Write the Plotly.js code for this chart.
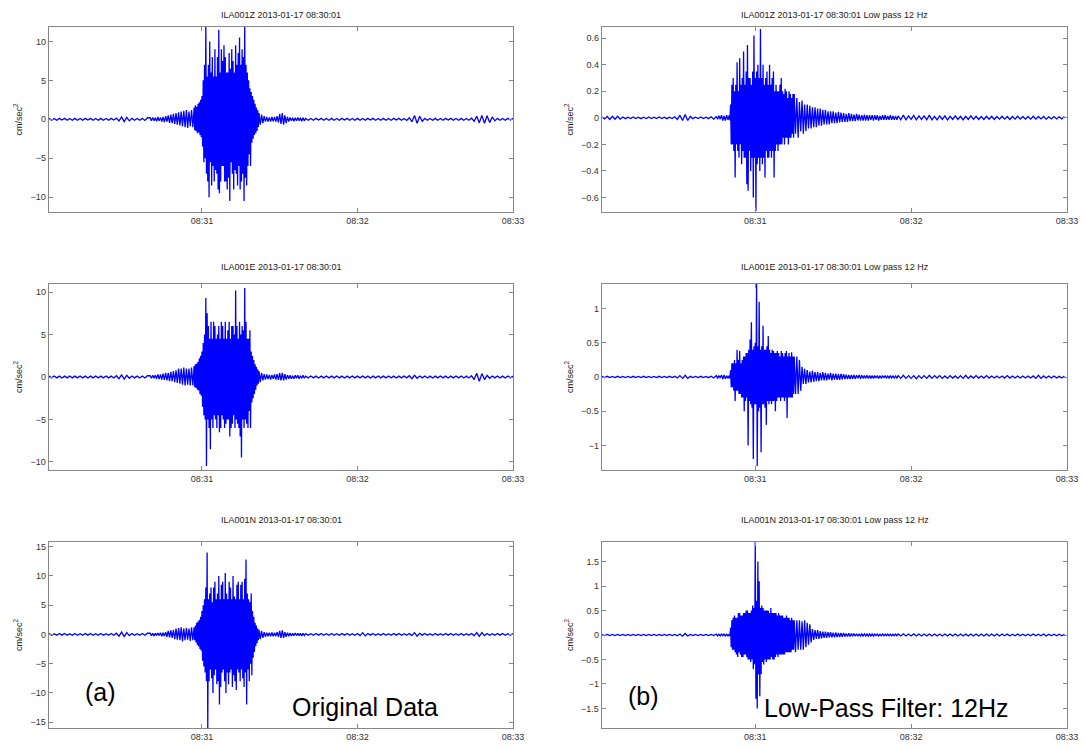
<!DOCTYPE html>
<html><head><meta charset="utf-8">
<script src="https://cdn.plot.ly/plotly-3.0.1.min.js"></script>
<style>html,body{margin:0;padding:0;background:#fff}#chart{width:1084px;height:747px}</style>
</head><body><div id="chart"></div>
<script>
// ---- data (seconds after 08:30:00 on 2013-01-17) ----
const titles = [
  'ILA001Z 2013-01-17 08:30:01', 'ILA001Z 2013-01-17 08:30:01 Low pass 12 Hz',
  'ILA001E 2013-01-17 08:30:01', 'ILA001E 2013-01-17 08:30:01 Low pass 12 Hz',
  'ILA001N 2013-01-17 08:30:01', 'ILA001N 2013-01-17 08:30:01 Low pass 12 Hz'
];
const xTickLabels = ['08:31', '08:32', '08:33'];
const yUnit = 'cm/sec<sup>2</sup>';

// sampling of each segment: [start second, step in seconds]
const origSampling = [[1, 1], [40, 0.5], [57, 0.25], [82, 0.5], [100, 1]];
const lowSampling = [[1, 1], [45, 0.5], [50, 0.25], [75, 0.5], [115, 1]];

// ---------- ILA001Z original ----------
const zPre = [.12,-.12,.1,-.12,.12,-.1,.12,-.12,.1,-.12, .12,-.12,.1,-.12,.12,-.1,.12,-.12,.1,-.12,
  .12,-.12,.1,-.12,.12,-.1,.15,-.2,.3,-.3, .25,-.2,.12,-.12,.1,-.12,.12,-.15,.2];
const zMid1 = [.2,-.2,.25,-.2,.2,-.25,.3,-.2,.25,-.3, .3,-.35,.4,-.3,.5,-.45,.6,-.5,.7,-.6,
  .8,-.7,.9,-.8,1,-.9,1.1,-1,1.2,-1.1, 1,-.9,1.2,-1];
const zCore = [1.5,-1.4,1.8,-1.5,1.6,-1.8,2,-1.7,2.2,-2,2.5,-2.3,
  3,-3.5,5,-5.5, 7,-5,12.5,-7, 5.5,-8,7,-10, 10,-5.5,6,-8.5, 8,-6,5.5,-8,
  9,-6.5,5.5,-7, 8,-9,11.5,-9.5, 6,-8,9,-6, 7.5,-6,9.5,-8, 8,-8,6,-9,
  6,-7.5,8.5,-10.5, 6.5,-5.5,9,-7, 7.5,-9,6,-6.5, 9.5,-7,7,-8.5, 8.5,-6,10.5,-9,
  7,-8,9,-7, 8,-10.5,12.5,-7.5, 7,-8.5,6,-6, 5,-4.5,4,-6, 3.5,-3,3,-2.5,
  2.5,-2,2,-1.8, 1.5,-1.5,1.2,-1];
const zMid2 = [.8,-.7,.6,-.5,.4,-.3, .3,-.3,.25,-.3,.3,-.25,.3,-.3,.4,-.4,
  .7,-.6,.8,-.7,.5,-.5,.3,-.3,.25,-.2, .2,-.25,.2,-.2,.25,-.2,.2,-.25,.2,-.2];
const zPost = [
  .12,-.12,.1,-.12,.12,-.1,.12,-.12,.1,-.12, .12,-.12,.1,-.12,.12,-.1,.12,-.12,.1,-.12,
  .12,-.12,.1,-.12,.12,-.1,.12,-.12,.1,-.12, .12,-.12,.1,-.12,.12,-.1,.12,-.12,.1,-.15,
  .2,-.3,.5,-.5,.4,-.25,.12,-.12,.1,-.12, .12,-.12,.1,-.12,.12,-.1,.12,-.12,.1,-.12,
  .12,-.12,.1,-.12,.15,-.25,.4,-.45,.5,-.5, .45,-.4,.3,-.2,.12,-.12,.1,-.12,.12,-.1, .12];

// ---------- ILA001E original ----------
const ePre = [.1,-.1,.12,-.1,.1,-.12,.1,-.1,.12,-.1, .1,-.1,.12,-.1,.1,-.12,.1,-.1,.12,-.1,
  .1,-.1,.12,-.1,.1,-.12,.15,-.2,.25,-.25, .2,-.15,.12,-.1,.1,-.12,.12,-.12,.15];
const eMid1 = [.15,-.15,.2,-.15,.2,-.2,.3,-.25,.3,-.3, .4,-.35,.5,-.4,.5,-.5,.6,-.5,.7,-.6,
  .8,-.7,1,-.8,1,-.9,1.1,-1,1,-.9, 1,-1,1.1,-1];
const eCore = [1.3,-1.2,1.5,-1.3,1.6,-1.5,1.8,-1.6,2.2,-2,2.5,-2.2,
  3,-3.5,4,-4.5, 5,-5,9.3,-10.5, 7.5,-5,6,-6, 4.5,-8.5,6.5,-5, 4.5,-6,6.5,-4.5,
  6,-5,4.5,-6, 5,-4.5,6,-6.5, 4.5,-6,6.5,-4.5, 6,-5,4.5,-6, 6.5,-5.5,4.5,-5,
  5.5,-5,6.5,-7, 4.5,-6,6,-5.5, 6,-4.5,5,-6, 10.2,-5,6,-5.5, 4.5,-6,6.5,-7,
  5,-9.5,6,-5, 5.5,-6,10.5,-5, 6.5,-5.5,4.5,-6, 4.5,-4,5.5,-6, 3,-3,2.5,-2.5,
  2,-2,1.5,-1.5, 1.2,-1,.9,-.8];
const eMid2 = [.7,-.6,.5,-.4,.35,-.3, .3,-.25,.25,-.3,.25,-.2,.3,-.3,.35,-.35,
  .45,-.4,.5,-.4,.35,-.3,.25,-.2,.2,-.2, .15,-.2,.2,-.15,.2,-.2,.15,-.15,.2,-.15];
const ePost = [
  .1,-.1,.12,-.1,.1,-.12,.1,-.1,.12,-.1, .1,-.1,.12,-.1,.1,-.12,.1,-.1,.12,-.1,
  .1,-.1,.12,-.1,.1,-.12,.1,-.1,.12,-.1, .1,-.1,.12,-.1,.1,-.12,.1,-.1,.12,-.1,
  .15,-.2,.2,-.15,.12,-.1,.12,-.12,.1,-.12, .1,-.1,.12,-.1,.1,-.12,.1,-.1,.12,-.1,
  .12,-.12,.1,-.12,.15,-.3,.45,-.5,.4,-.3, .2,-.15,.12,-.1,.12,-.12,.1,-.12,.12,-.1, .1];

// ---------- ILA001N original ----------
const nPre = [.15,-.15,.12,-.15,.15,-.12,.15,-.15,.12,-.15, .15,-.15,.12,-.15,.15,-.12,.15,-.15,.12,-.15,
  .15,-.15,.12,-.15,.15,-.15,.2,-.3,.4,-.35, .3,-.2,.15,-.15,.12,-.15,.15,-.15,.2];
const nMid1 = [.2,-.2,.2,-.25,.2,-.2,.25,-.2,.3,-.3, .3,-.3,.4,-.4,.6,-.5,.7,-.6,.8,-.8,
  1,-.9,1.1,-1,1.2,-1.2,1,-1,1.1,-.9, 1,-1.1,1.2,-1];
const nCore = [1.2,-1,1.5,-1.4,2,-1.8,2.2,-2,2.5,-2.5,3,-2.8,
  4,-4.5,5,-5.5, 6,-6.5,8,-8, 14,-16,6,-8, 7,-6,8,-7.5, 5.5,-10,8,-7,
  9,-6,6,-8.5, 7,-8,10,-12, 6,-9,8.5,-6.5, 9,-6,6,-8, 10.5,-10,7,-6.5,
  6,-8.5,9,-6.5, 8,-6,6,-9, 10,-7,6.5,-8, 6,-9.5,8.5,-6, 9,-6.5,6,-8,
  8.5,-6,9,-7.5, 6,-9,9.5,-6.5, 12.8,-12,7,-6, 6,-8,5.5,-5, 7,-7,4,-4,
  3,-3,2,-2, 1.5,-1.5,1,-1];
const nMid2 = [.8,-.8,.6,-.6,.4,-.4, .3,-.3,.3,-.3,.35,-.3,.3,-.3,.4,-.4,
  .6,-.6,.7,-.6,.4,-.4,.3,-.3,.25,-.25, .2,-.2,.25,-.2,.2,-.2,.2,-.25,.2,-.2];
const nPost = [
  .15,-.15,.12,-.15,.15,-.12,.15,-.15,.12,-.15, .15,-.15,.12,-.15,.15,-.12,.15,-.15,.12,-.15,
  .15,-.2,.3,-.25,.15,-.12,.15,-.15,.12,-.15, .15,-.15,.12,-.15,.15,-.12,.15,-.15,.12,-.15,
  .15,-.2,.3,-.3,.2,-.12,.15,-.15,.12,-.15, .15,-.15,.12,-.15,.15,-.12,.15,-.15,.12,-.15,
  .15,-.15,.12,-.15,.15,-.2,.3,-.35,.3,-.2, .15,-.15,.12,-.15,.15,-.12,.15,-.15,.12,-.15, .15];

// ---------- ILA001Z low pass ----------
const zlPre = [
  .006,-.008,.01,-.012,.012,-.01,.012,-.01,.006,-.006, .005,-.005,.006,-.005,.005,-.006,.005,-.005,.006,-.005,
  .005,-.005,.006,-.005,.005,-.006,.005,-.005,.008,-.012, .02,-.02,.025,-.02,.01,-.006,.005,-.005,.006,-.005,
  .005,-.006,.008,-.01];
const zlMid1 = [.01,-.01,.015,-.01,.02,-.02,.015,-.02,.02,-.015];
const zlCore = [.02,-.02,.1,-.2, .25,-.2,.3,-.25, .2,-.45,.25,-.2, .42,-.25,.2,-.3, .45,-.2,.25,-.35,
  .3,-.25,.5,-.3, .25,-.3,.35,-.5, .55,-.55,.3,-.25, .3,-.4,.25,-.3, .35,-.6,.62,-.3,
  .3,-.7,.35,-.35, .4,-.3,.3,-.4, .67,-.3,.3,-.35, .4,-.3,.25,-.45, .3,-.25,.35,-.3,
  .25,-.3,.4,-.25, .25,-.3,.3,-.25, .35,-.45,.2,-.25, .25,-.2,.2,-.25, .2,-.2,.25,-.2,
  .3,-.2,.2,-.15, .18,-.2,.22,-.15, .2,-.15,.15,-.2, .2,-.15,.18,-.15, .15,-.12,.18,-.15];
const zlMid2 = [
  .18,-.12,.15,-.15,.12,-.1,.13,-.12,.1,-.1, .1,-.08,.09,-.08,.08,-.07,.08,-.07,.07,-.06,
  .07,-.06,.06,-.05,.06,-.05,.05,-.05,.05,-.04, .05,-.04,.04,-.04,.045,-.035,.04,-.03,.035,-.03,
  .03,-.03,.035,-.025,.03,-.025,.025,-.025,.03,-.02, .025,-.02,.02,-.02,.025,-.02,.02,-.02,.02,-.015,
  .02,-.02,.02,-.015,.02,-.02,.015,-.015,.02,-.015, .02,-.015,.015,-.015,.02,-.015,.015,-.015,.015,-.015];
const zlPost = [
  .015,-.015,.02,-.015,.015,-.012,.018,-.015,.015,-.012, .015,-.015,.02,-.015,.012,-.015,.015,-.012,.015,-.015,
  .012,-.012,.015,-.012,.012,-.015,.012,-.012,.015,-.01, .012,-.012,.01,-.012,.012,-.01,.012,-.012,.01,-.01,
  .012,-.01,.01,-.012,.01,-.01,.012,-.01,.01,-.01, .01,-.01,.012,-.01,.01,-.008,.01,-.01,.008,-.008,
  .01,-.008,.008,-.008,.01];

// ---------- ILA001E low pass ----------
const elPre = [
  .008,-.008,.01,-.008,.008,-.008,.01,-.008,.008,-.008, .008,-.008,.01,-.008,.008,-.008,.01,-.008,.008,-.008,
  .008,-.008,.01,-.008,.008,-.008,.01,-.008,.01,-.015, .02,-.02,.025,-.02,.01,-.008,.008,-.008,.01,-.008,
  .008,-.01,.012,-.015];
const elMid1 = [.02,-.02,.02,-.015,.03,-.03,.03,-.025,.02,-.02];
const elCore = [.02,-.02,.1,-.15, .2,-.15,.2,-.2, .25,-.35,.2,-.2, .4,-.2,.25,-.25, .38,-.25,.2,-.3,
  .25,-.3,.3,-.5, .3,-.35,.35,-.3, .35,-1.0,.4,-.35, .55,-.4,.8,-.45, .4,-1.2,.45,-.4,
  .5,-.4,1.4,-1.3, .45,-.5,1.1,-.45, .4,-1.1,.45,-.4, .75,-.4,.4,-.45, .4,-.7,.45,-.35,
  .6,-.4,.4,-.35, .35,-.4,.4,-.35, .38,-.35,.35,-.5, .35,-.35,.38,-.3, .35,-.3,.3,-.35,
  .38,-.3,.35,-.3, .3,-.35,.35,-.3, .38,-.6,.3,-.3, .35,-.3,.3,-.3, .36,-.3,.3,-.25];
const elMid2 = [
  .3,-.25,.3,-.25,.25,-.2,.15,-.1,.12,-.1, .1,-.08,.08,-.08,.09,-.07,.07,-.06,.07,-.06,
  .06,-.05,.07,-.05,.06,-.05,.05,-.04,.06,-.05, .05,-.04,.05,-.04,.04,-.04,.045,-.035,.04,-.03,
  .035,-.03,.03,-.03,.03,-.025,.03,-.025,.025,-.02, .03,-.025,.025,-.02,.02,-.02,.025,-.02,.02,-.02,
  .02,-.02,.02,-.015,.02,-.02,.015,-.015,.02,-.015, .02,-.015,.015,-.015,.02,-.015,.015,-.015,.015,-.015];
const elPost = [
  .02,-.02,.025,-.02,.02,-.02,.02,-.025,.02,-.02, .02,-.02,.025,-.02,.02,-.015,.02,-.02,.015,-.02,
  .02,-.015,.015,-.02,.02,-.02,.025,-.02,.015,-.015, .02,-.015,.015,-.015,.02,-.015,.015,-.015,.015,-.015,
  .015,-.015,.02,-.015,.015,-.015,.015,-.015,.015,-.015, .015,-.015,.015,-.02,.025,-.02,.015,-.015,.015,-.015,
  .015,-.015,.012,-.015,.015];

// ---------- ILA001N low pass ----------
const nlPre = [
  .01,-.01,.012,-.01,.01,-.01,.012,-.01,.01,-.01, .01,-.01,.012,-.01,.01,-.01,.012,-.01,.01,-.01,
  .01,-.01,.012,-.01,.01,-.01,.012,-.01,.012,-.015, .02,-.025,.03,-.02,.012,-.01,.01,-.01,.012,-.01,
  .01,-.01,.012,-.012];
const nlMid1 = [.02,-.02,.015,-.02,.02,-.015,.02,-.02,.015,-.02];
const nlCore = [.02,-.02,.15,-.25, .3,-.3,.35,-.3, .4,-.35,.35,-.4, .35,-.45,.45,-.35, .45,-.4,.4,-.45,
  .4,-.45,.45,-.4, .45,-.4,.5,-.45, .5,-.5,.45,-.5, .45,-.55,.5,-.5, .6,-.7,.55,-.6,
  1.9,-1.3,.7,-1.5, 1.5,-.8,1.1,-1.25, .55,-.8,.6,-.55, .55,-.6,.5,-.5, .5,-.55,.5,-.5,
  .5,-.5,.45,-.5, .55,-.45,.45,-.5, .45,-.5,.45,-.45, .45,-.4,.4,-.45, .45,-.4,.4,-.4,
  .4,-.4,.4,-.4, .35,-.4,.35,-.35, .4,-.35,.35,-.35, .35,-.35,.3,-.35, .35,-.3,.3,-.3];
const nlMid2 = [
  .3,-.35,.3,-.3,.3,-.3,.28,-.3,.3,-.25, .25,-.2,.22,-.15,.12,-.1,.1,-.08,.1,-.08,
  .08,-.07,.07,-.06,.07,-.06,.06,-.05,.06,-.05, .05,-.05,.05,-.04,.04,-.04,.04,-.035,.04,-.03,
  .03,-.03,.035,-.03,.03,-.025,.03,-.025,.025,-.025, .025,-.02,.02,-.02,.025,-.02,.02,-.02,.02,-.02,
  .02,-.02,.02,-.015,.02,-.02,.015,-.015,.02,-.015, .015,-.015,.02,-.015,.015,-.015,.015,-.015,.02,-.015];
const nlPost = [
  .02,-.02,.025,-.02,.02,-.02,.025,-.02,.02,-.02, .02,-.02,.02,-.02,.02,-.02,.02,-.02,.02,-.02,
  .02,-.02,.02,-.02,.02,-.02,.02,-.02,.02,-.02, .02,-.02,.02,-.02,.02,-.02,.02,-.02,.02,-.02,
  .02,-.015,.02,-.02,.015,-.015,.02,-.015,.015,-.015, .015,-.015,.02,-.015,.015,-.015,.02,-.02,.015,-.015,
  .015,-.015,.015,-.015,.015];

// ---- build ----
const T0 = Date.UTC(2013, 0, 17, 8, 30, 0);
function trace(sampling, parts) {
  const x = [], y = [];
  parts.forEach((vals, k) => {
    const start = sampling[k][0], dt = sampling[k][1];
    vals.forEach((v, i) => { x.push(T0 + (start + i * dt) * 1000); y.push(v); });
  });
  return {x, y};
}
const series = [
  trace(origSampling, [zPre, zMid1, zCore, zMid2, zPost]),
  trace(lowSampling, [zlPre, zlMid1, zlCore, zlMid2, zlPost]),
  trace(origSampling, [ePre, eMid1, eCore, eMid2, ePost]),
  trace(lowSampling, [elPre, elMid1, elCore, elMid2, elPost]),
  trace(origSampling, [nPre, nMid1, nCore, nMid2, nPost]),
  trace(lowSampling, [nlPre, nlMid1, nlCore, nlMid2, nlPost])
];

const W = 1084, H = 747;
const colDom = [[49 / W, 513 / W], [602 / W, 1067 / W]];
const rowPx = [[27, 212], [284, 470], [542, 728]];
const rowDom = rowPx.map(r => [1 - r[1] / H, 1 - r[0] / H]);
const yRanges = [[-11.9, 11.85], [-0.71, 0.685], [-10.96, 10.96], [-1.36, 1.36], [-16, 15.8], [-1.9, 1.9]];
const yDticks = [5, 0.2, 5, 0.5, 5, 0.5];
const titleY = [15, 267, 520];

const data = [], layout = {
  width: W, height: H, margin: {l: 0, r: 0, t: 0, b: 0},
  paper_bgcolor: '#fff', plot_bgcolor: '#fff', showlegend: false,
  font: {family: 'Liberation Sans, Arial, sans-serif', color: '#222'},
  annotations: []
};
const tickVals = [60, 120, 180].map(s => T0 + s * 1000);
for (let i = 0; i < 6; i++) {
  const col = i % 2, row = Math.floor(i / 2), n = i + 1;
  const sfx = n === 1 ? '' : String(n);
  data.push({
    type: 'scatter', mode: 'lines', x: series[i].x, y: series[i].y,
    xaxis: 'x' + sfx, yaxis: 'y' + sfx,
    line: {color: '#0000ff', width: 1.3, simplify: false}, hoverinfo: 'skip'
  });
  layout['xaxis' + sfx] = {
    type: 'date', domain: colDom[col], anchor: 'y' + sfx,
    range: [T0 + 1000, T0 + 180000], tickvals: tickVals, ticktext: xTickLabels,
    ticks: 'inside', ticklen: 4, tickcolor: '#888', showline: true, linecolor: '#888', linewidth: 1.3,
    mirror: 'ticks', showgrid: false, zeroline: false, tickfont: {size: 9, color: '#333'}
  };
  layout['yaxis' + sfx] = {
    domain: rowDom[row], anchor: 'x' + sfx, range: yRanges[i], dtick: yDticks[i], tick0: 0,
    ticks: 'inside', ticklen: 4, tickcolor: '#888', showline: true, linecolor: '#888', linewidth: 1.3,
    mirror: 'ticks', showgrid: false, zeroline: false, tickfont: {size: 9, color: '#333'},
    title: {text: yUnit, font: {size: 9, color: '#222'}, standoff: 6}
  };
  layout.annotations.push({
    text: titles[i], xref: 'paper', yref: 'paper', x: (colDom[col][0] + colDom[col][1]) / 2,
    y: 1 - titleY[row] / H, xanchor: 'center', yanchor: 'middle', showarrow: false,
    font: {size: 9, color: '#222'}
  });
}
const bigLabels = [
  {text: '(a)', x: 100, y: 692}, {text: 'Original Data', x: 365, y: 707},
  {text: '(b)', x: 643, y: 696}, {text: 'Low-Pass Filter: 12Hz', x: 886, y: 708}
];
bigLabels.forEach(b => layout.annotations.push({
  text: b.text, xref: 'paper', yref: 'paper', x: b.x / W, y: 1 - b.y / H,
  xanchor: 'center', yanchor: 'middle', showarrow: false,
  font: {size: 25, color: '#000', family: 'Liberation Sans, Arial, sans-serif'}
}));
Plotly.newPlot('chart', data, layout, {staticPlot: true});
</script></body></html>
